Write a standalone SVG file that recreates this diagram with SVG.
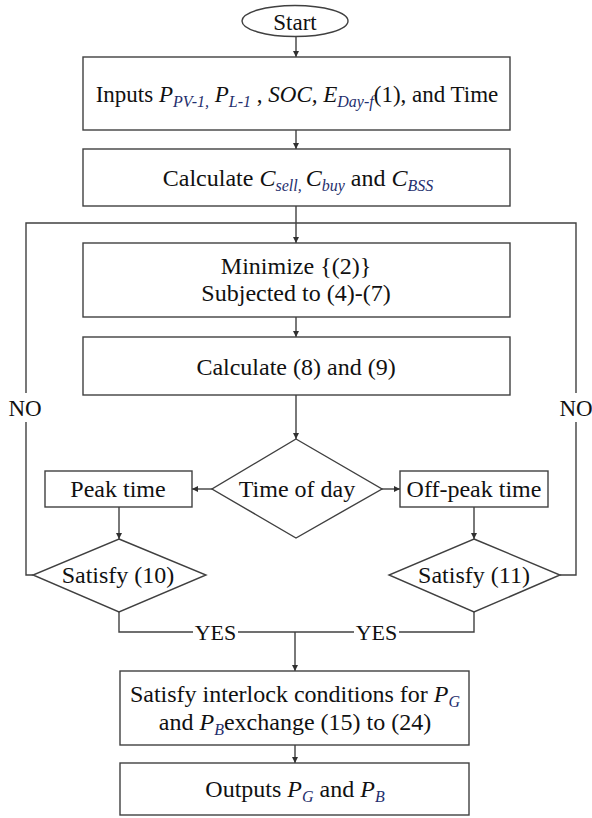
<svg xmlns="http://www.w3.org/2000/svg" width="592" height="818" viewBox="0 0 592 818">
<style>
.shape{fill:#fff;stroke:#404040;stroke-width:1.4}
.conn{fill:none;stroke:#404040;stroke-width:1.4}
.t{fill:#111}
.i{font-style:italic}
.sub{font-style:italic;font-size:16px;fill:#1f2f6e}
</style>
<defs>
<marker id="ah" viewBox="0 0 8 8" refX="8" refY="4" markerWidth="6" markerHeight="6" markerUnits="userSpaceOnUse" orient="auto">
<path d="M0,0 L8,4 L0,8 Z" fill="#303030"/>
</marker>
</defs>
<rect width="592" height="818" fill="#fff"/>
<g id="connectors">
<line class="conn" x1="296" y1="36.5" x2="296" y2="57" marker-end="url(#ah)"/>
<line class="conn" x1="296" y1="130" x2="296" y2="149" marker-end="url(#ah)"/>
<line class="conn" x1="296" y1="206" x2="296" y2="243" marker-end="url(#ah)"/>
<polyline class="conn" points="26,393 26,223 576,223 576,393"/>
<polyline class="conn" points="26,422 26,575 33,575"/>
<polyline class="conn" points="576,422 576,575 560,575"/>
<line class="conn" x1="296" y1="317" x2="296" y2="337" marker-end="url(#ah)"/>
<line class="conn" x1="296" y1="395" x2="296" y2="439" marker-end="url(#ah)"/>
<line class="conn" x1="212" y1="489" x2="192" y2="489" marker-end="url(#ah)"/>
<line class="conn" x1="382" y1="489" x2="400" y2="489" marker-end="url(#ah)"/>
<line class="conn" x1="119" y1="507" x2="119" y2="539" marker-end="url(#ah)"/>
<line class="conn" x1="474" y1="507" x2="474" y2="539" marker-end="url(#ah)"/>
<polyline class="conn" points="119,612 119,632 193,632"/>
<line class="conn" x1="238" y1="632" x2="354" y2="632"/>
<polyline class="conn" points="399,632 474,632 474,612"/>
<line class="conn" x1="295" y1="632" x2="295" y2="671" marker-end="url(#ah)"/>
<line class="conn" x1="295" y1="745" x2="295" y2="763" marker-end="url(#ah)"/>
<text class="t" x="25" y="416" text-anchor="middle" style="font-family:'Liberation Serif',serif;font-size:23px">NO</text>
<text class="t" x="576" y="416" text-anchor="middle" style="font-family:'Liberation Serif',serif;font-size:23px">NO</text>
<text class="t" x="215.5" y="640" text-anchor="middle" style="font-family:'Liberation Serif',serif;font-size:22px">YES</text>
<text class="t" x="376.5" y="640" text-anchor="middle" style="font-family:'Liberation Serif',serif;font-size:22px">YES</text>
</g>
<g id="start">
<ellipse class="shape" cx="295" cy="21" rx="53" ry="15.5"/>
<text class="t" x="295" y="30" text-anchor="middle" style="font-family:'Liberation Serif',serif;font-size:23px">Start</text>
</g>
<g id="inputs">
<rect class="shape" x="83" y="57" width="427" height="73"/>
<text class="t" x="297" y="102" text-anchor="middle" style="font-family:'Liberation Serif',serif;font-size:23px">Inputs <tspan class="i">P</tspan><tspan class="sub" dy="5">PV-1,</tspan><tspan dy="-5"> </tspan><tspan class="i">P</tspan><tspan class="sub" dy="5">L-1</tspan><tspan dy="-5"> , </tspan><tspan class="i">SOC, E</tspan><tspan class="sub" dy="5">Day-f</tspan><tspan dy="-5">(1), and Time</tspan></text>
</g>
<g id="calc-costs">
<rect class="shape" x="83" y="149" width="427" height="57"/>
<text class="t" x="298" y="186" text-anchor="middle" style="font-family:'Liberation Serif',serif;font-size:24px">Calculate <tspan class="i">C</tspan><tspan class="sub" dy="5">sell, </tspan><tspan class="i" dy="-5">C</tspan><tspan class="sub" dy="5">buy</tspan><tspan dy="-5"> and </tspan><tspan class="i">C</tspan><tspan class="sub" dy="5">BSS</tspan></text>
</g>
<g id="minimize">
<rect class="shape" x="83" y="243" width="427" height="74"/>
<text class="t" x="296" y="274" text-anchor="middle" style="font-family:'Liberation Serif',serif;font-size:24px">Minimize {(2)}</text>
<text class="t" x="296" y="301" text-anchor="middle" style="font-family:'Liberation Serif',serif;font-size:24px">Subjected to (4)-(7)</text>
</g>
<g id="calc-8-9">
<rect class="shape" x="83" y="337" width="427" height="58"/>
<text class="t" x="296" y="375" text-anchor="middle" style="font-family:'Liberation Serif',serif;font-size:24px">Calculate (8) and (9)</text>
</g>
<g id="time-of-day">
<polygon class="shape" points="296,439 382,489 296,538 212,489"/>
<text class="t" x="297" y="497" text-anchor="middle" style="font-family:'Liberation Serif',serif;font-size:24px">Time of day</text>
</g>
<g id="peak">
<rect class="shape" x="45" y="471" width="147" height="36"/>
<text class="t" x="118" y="497" text-anchor="middle" style="font-family:'Liberation Serif',serif;font-size:24px">Peak time</text>
</g>
<g id="offpeak">
<rect class="shape" x="400" y="471" width="148" height="36"/>
<text class="t" x="474" y="497" text-anchor="middle" style="font-family:'Liberation Serif',serif;font-size:24px">Off-peak time</text>
</g>
<g id="satisfy10">
<polygon class="shape" points="119,539 206,575 119,612 33,575"/>
<text class="t" x="118" y="583" text-anchor="middle" style="font-family:'Liberation Serif',serif;font-size:24px">Satisfy (10)</text>
</g>
<g id="satisfy11">
<polygon class="shape" points="474,539 560,575 474,612 389,575"/>
<text class="t" x="474" y="583" text-anchor="middle" style="font-family:'Liberation Serif',serif;font-size:24px">Satisfy (11)</text>
</g>
<g id="interlock">
<rect class="shape" x="120" y="671" width="349" height="74"/>
<text class="t" x="295" y="702" text-anchor="middle" style="font-family:'Liberation Serif',serif;font-size:24px">Satisfy interlock conditions for <tspan class="i">P</tspan><tspan class="sub" dy="5">G</tspan></text>
<text class="t" x="295" y="730" text-anchor="middle" style="font-family:'Liberation Serif',serif;font-size:24px">and <tspan class="i">P</tspan><tspan class="sub" dy="5">B</tspan><tspan dy="-5">exchange (15) to (24)</tspan></text>
</g>
<g id="outputs">
<rect class="shape" x="120" y="763" width="349" height="52"/>
<text class="t" x="295" y="797" text-anchor="middle" style="font-family:'Liberation Serif',serif;font-size:24px">Outputs <tspan class="i">P</tspan><tspan class="sub" dy="5">G</tspan><tspan dy="-5"> and </tspan><tspan class="i">P</tspan><tspan class="sub" dy="5">B</tspan></text>
</g>
</svg>
